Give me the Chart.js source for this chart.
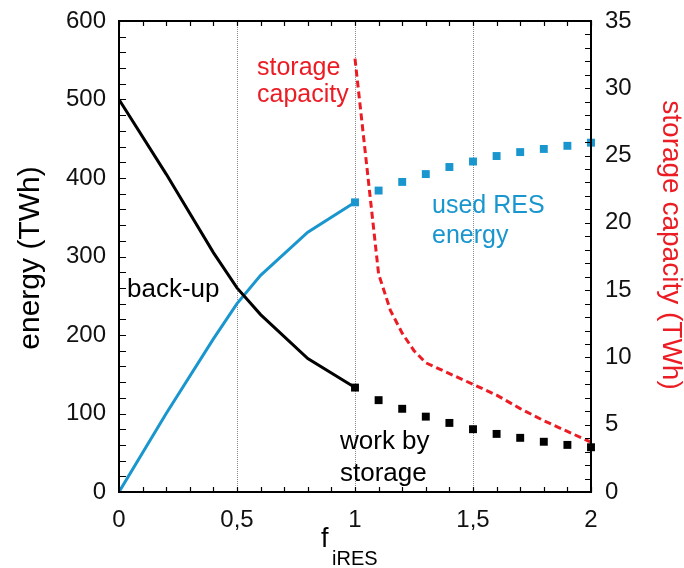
<!DOCTYPE html>
<html>
<head>
<meta charset="utf-8">
<script src="https://cdn.jsdelivr.net/npm/chart.js@4/dist/chart.umd.min.js"></script>
<style>
  html, body { margin: 0; padding: 0; background: #fff; }
  #wrap { width: 684px; height: 568px; }
</style>
</head>
<body>
<div id="wrap"><canvas id="c" width="684" height="568"></canvas></div>
<script>
// ---- data ----
const fLine = [0, 0.2, 0.4, 0.5, 0.6, 0.8, 1.0];
const backupLine = [500, 405, 305, 260, 226, 170, 133];
const usedResLine = [0, 100, 195, 240, 276, 331, 369];

const fSquares = [1.0, 1.1, 1.2, 1.3, 1.4, 1.5, 1.6, 1.7, 1.8, 1.9, 2.0];
const workByStorage = [133, 117, 106, 96, 88, 80, 74, 69, 64, 60, 57];
const usedResSquares = [369, 384, 395, 405, 414, 421, 428, 433, 437, 441, 445];

const fCapacity = [1.0, 1.1, 1.15, 1.2, 1.25, 1.3, 1.4, 1.5, 1.6, 1.7, 1.8, 1.9, 2.0];
const storageCapacity = [32.2, 16.2, 13.5, 11.8, 10.5, 9.6, 8.8, 8.0, 7.2, 6.2, 5.3, 4.5, 3.7];

const xTickStep = 0.5;
const yTicksLeft = [0, 100, 200, 300, 400, 500, 600];
const yTicksRight = [0, 5, 10, 15, 20, 25, 30, 35];

// ---- styling ----
const BLUE = '#1a96cf';
const RED = '#ec1c24';
const FONT = "'Liberation Sans', Arial, sans-serif";

const pts = (xs, ys) => xs.map((x, i) => ({ x: x, y: ys[i] }));

const framePlugin = {
  id: 'frame',
  afterDraw(chart) {
    const ctx = chart.ctx;
    const a = chart.chartArea;
    const xs = chart.scales.x, yl = chart.scales.y, yr = chart.scales.y2;
    ctx.save();
    // inner ticks
    ctx.strokeStyle = '#000';
    ctx.lineWidth = 1.2;
    ctx.beginPath();
    for (let i = 0; i <= 20; i++) {
      const px = Math.round(xs.getPixelForValue(i / 10)) + 0.5;
      ctx.moveTo(px, a.bottom); ctx.lineTo(px, a.bottom - 5);
      ctx.moveTo(px, a.top); ctx.lineTo(px, a.top + 5);
    }
    for (let v = 0; v <= 600; v += 20) {
      const py = Math.round(yl.getPixelForValue(v)) + 0.5;
      ctx.moveTo(a.left, py); ctx.lineTo(a.left + 7, py);
    }
    for (let v = 0; v <= 35; v += 1) {
      const py = Math.round(yr.getPixelForValue(v)) + 0.5;
      ctx.moveTo(a.right, py); ctx.lineTo(a.right - 6, py);
    }
    ctx.stroke();
    // frame
    ctx.lineWidth = 2;
    ctx.strokeRect(a.left, a.top, a.right - a.left, a.bottom - a.top);

    // annotations
    ctx.textAlign = 'left';
    ctx.textBaseline = 'alphabetic';
    ctx.font = '25px ' + FONT;
    ctx.fillStyle = RED;
    ctx.fillText('storage', 257, 75);
    ctx.fillText('capacity', 257, 102);
    ctx.fillStyle = BLUE;
    ctx.fillText('used RES', 432, 213);
    ctx.fillText('energy', 432, 243);
    ctx.fillStyle = '#000';
    ctx.font = '26px ' + FONT;
    ctx.fillText('back-up', 127, 297);
    ctx.fillText('work by', 340, 449);
    ctx.fillText('storage', 340, 481);

    // axis titles
    ctx.fillStyle = '#000';
    ctx.font = '30px ' + FONT;
    ctx.save();
    ctx.translate(39, 258);
    ctx.rotate(-Math.PI / 2);
    ctx.textAlign = 'center';
    ctx.fillText('energy (TWh)', 0, 0);
    ctx.restore();

    ctx.fillStyle = RED;
    ctx.font = '28px ' + FONT;
    ctx.save();
    ctx.translate(663, 245);
    ctx.rotate(Math.PI / 2);
    ctx.textAlign = 'center';
    ctx.fillText('storage capacity (TWh)', 0, 0);
    ctx.restore();

    ctx.fillStyle = '#000';
    ctx.textAlign = 'left';
    ctx.font = '27px ' + FONT;
    ctx.fillText('f', 321, 547);
    ctx.font = '20px ' + FONT;
    ctx.fillText('iRES', 332, 565);
    ctx.restore();
  }
};

const noPadV = s => { s.paddingTop = 0; s.paddingBottom = 0; };

new Chart(document.getElementById('c'), {
  type: 'scatter',
  data: {
    datasets: [
      {
        label: 'storage capacity',
        data: pts(fCapacity, storageCapacity),
        yAxisID: 'y2',
        showLine: true,
        borderColor: RED,
        borderWidth: 3,
        borderDash: [7, 4],
        pointRadius: 0,
        fill: false,
        order: 3
      },
      {
        label: 'back-up',
        data: pts(fLine, backupLine),
        yAxisID: 'y',
        showLine: true,
        borderColor: '#000',
        borderWidth: 3,
        pointRadius: 0,
        fill: false,
        order: 2
      },
      {
        label: 'used RES energy',
        data: pts(fLine, usedResLine),
        yAxisID: 'y',
        showLine: true,
        borderColor: BLUE,
        borderWidth: 3,
        pointRadius: 0,
        fill: false,
        order: 2
      },
      {
        label: 'work by storage',
        data: pts(fSquares, workByStorage),
        yAxisID: 'y',
        showLine: false,
        clip: false,
        pointStyle: 'rect',
        pointRadius: 5.6,
        pointBorderWidth: 0,
        backgroundColor: '#000',
        borderColor: '#000',
        order: 1
      },
      {
        label: 'used RES energy squares',
        data: pts(fSquares, usedResSquares),
        yAxisID: 'y',
        showLine: false,
        clip: false,
        pointStyle: 'rect',
        pointRadius: 5.6,
        pointBorderWidth: 0,
        backgroundColor: BLUE,
        borderColor: BLUE,
        order: 1
      }
    ]
  },
  options: {
    responsive: false,
    animation: false,
    devicePixelRatio: 1,
    layout: { padding: { top: 21, left: 0, right: 0, bottom: 0 } },
    plugins: {
      legend: { display: false },
      tooltip: { enabled: false }
    },
    scales: {
      x: {
        type: 'linear',
        min: 0, max: 2,
        afterFit: s => { s.height = 76; s.paddingLeft = 0; s.paddingRight = 0; },
        ticks: {
          stepSize: xTickStep,
          padding: 14,
          color: '#111',
          font: { family: FONT, size: 24 },
          maxRotation: 0,
          callback: v => String(v).replace('.', ',')
        },
        grid: {
          drawTicks: false,
          lineWidth: 1,
          color: c => (c.tick && c.tick.value > 0 && c.tick.value < 2) ? '#8a8a8a' : 'rgba(0,0,0,0)'
        },
        border: { display: false, dash: [1, 1] }
      },
      y: {
        type: 'linear',
        position: 'left',
        min: 0, max: 600,
        afterFit: s => { s.width = 119; noPadV(s); },
        afterBuildTicks: s => { s.ticks = yTicksLeft.map(v => ({ value: v })); },
        ticks: {
          padding: 13,
          color: '#111',
          font: { family: FONT, size: 24 }
        },
        grid: { display: false, drawTicks: false },
        border: { display: false }
      },
      y2: {
        type: 'linear',
        position: 'right',
        min: 0, max: 35,
        afterFit: s => { s.width = 93; noPadV(s); },
        afterBuildTicks: s => { s.ticks = yTicksRight.map(v => ({ value: v })); },
        ticks: {
          padding: 14,
          color: '#111',
          font: { family: FONT, size: 24 }
        },
        grid: { display: false, drawTicks: false },
        border: { display: false }
      }
    }
  },
  plugins: [framePlugin]
});
</script>
</body>
</html>
